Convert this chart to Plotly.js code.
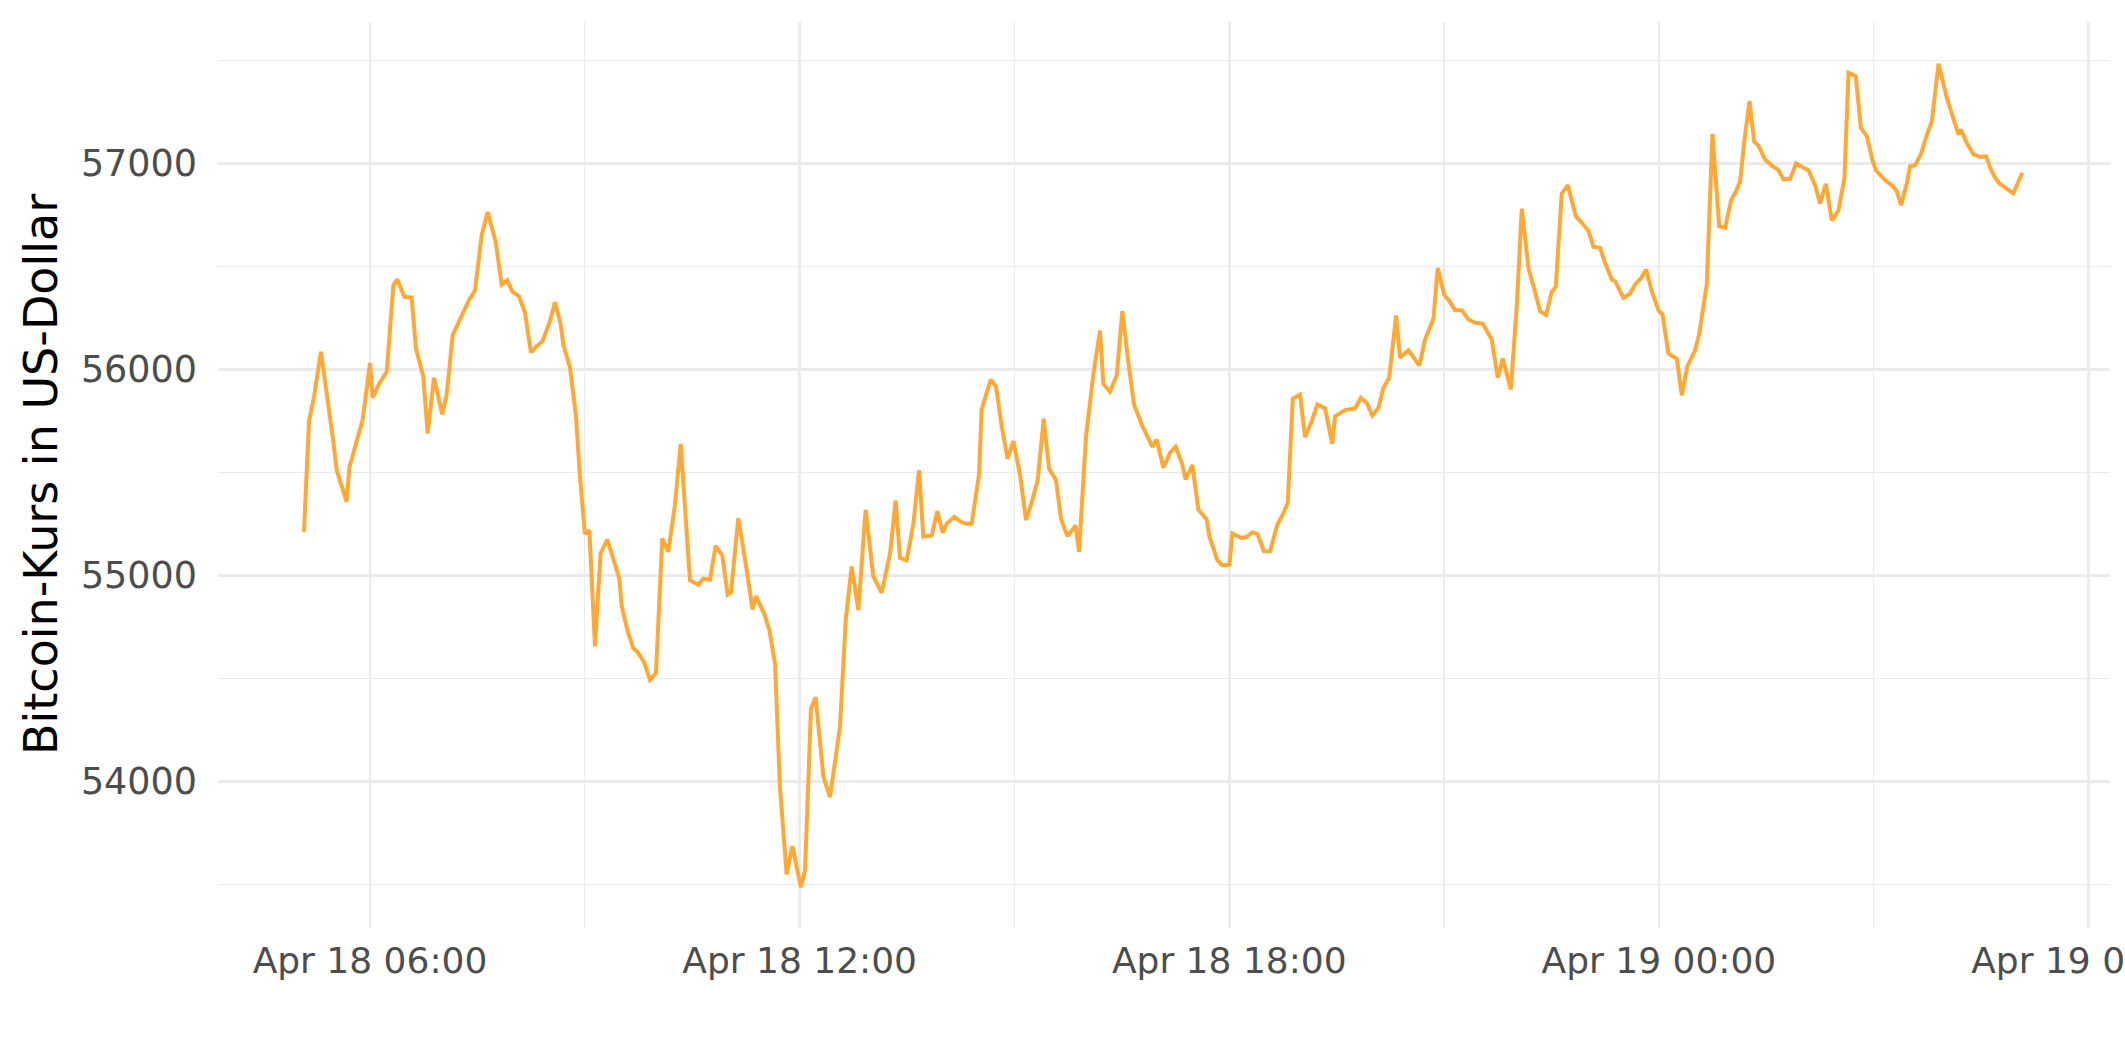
<!DOCTYPE html>
<html>
<head>
<meta charset="utf-8">
<script src="https://cdn.plot.ly/plotly-3.0.1.min.js"></script>
<style>
html,body{margin:0;padding:0;background:#fff;overflow:hidden;}
#chart{width:2125px;height:1062px;}
</style>
</head>
<body>
<div id="chart"></div>
<script>
// Minutes relative to Apr 18 2021 06:00
const minutesFrom0600 = [
-55.3,-51.1,-46.9,-41.1,-30.7,-27.9,-19.6,-17.3,-11.7,-6.1,0,2.2,7.8,14.0,19.6,22.9,28.8,34.9,38.5,44.7,48.3,53.6,60.6,64.2,69.3,76.0,82.9,88.0,93.6,98.6,105.3,110.3,
115.0,119.2,124.8,129.8,134.9,139.6,144.7,150.2,155.0,159.7,162.0,167.6,172.6,175.9,180.1,183.8,188.5,193.2,198.8,203.9,208.9,210.8,215.9,220.6,224.0,229.6,234.6,239.6,244.9,249.9,255.5,260.3,263.1,268.1,275.1,279.3,284.9,
289.6,295.2,299.7,302.5,308.6,314.8,320.6,323.4,330.4,334.6,339.4,343.5,349.1,353.9,361.1,364.5,369.5,373.4,379.9,385.4,390.2,393.8,398.6,403.6,409.2,415.3,421.7,428.7,435.7,440.5,444.1,449.7,455.3,460.0,
463.7,470.7,475.4,479.9,483.2,489.6,495.0,499.4,504.2,510.3,512.5,520.1,524.6,529.3,534.3,539.1,544.7,549.7,554.4,559.5,564.5,569.0,574.8,579.0,584.3,591.3,594.1,597.7,600.0,606.1,611.7,614.5,620.1,625.7,630.4,
635.5,640.2,646.6,655.6,659.2,664.8,670.4,675.1,680.2,683.5,689.1,694.1,701.1,703.3,710.0,714.2,720.1,722.6,729.9,734.1,739.4,743.8,749.1,754.2,760.3,765.3,769.0,773.2,779.3,783.5,789.1,793.8,800.3,806.2,808.7,
817.0,825.4,830.2,835.2,840.0,845.0,849.2,854.0,859.8,863.1,870.1,879.3,884.1,891.1,894.7,900.0,904.5,909.2,914.8,920.4,926.0,932.4,939.9,945.0,949.2,955.9,960.9,965.1,970.7,
974.9,980.5,985.5,990.2,993.6,998.6,1003.7,1010.4,1015.4,1021.0,1025.2,1030.7,1034.9,1040.5,1043.3,1050.3,1055.9,1060.1,1064.8,1069.3,1074.0,1079.6,1083.0,1088.0,1095.0,1099.2,1103.9,1110.3,1113.7,1116.5,1120.1,1124.9,1130.5,1135.5,1140.5,1144.7,
1148.1,1151.4,1155.9,1159.8,1163.4,1169.0,1174.6,1180.2,1184.4,1190.0,1195.0,1199.7,1205.3,1210.9,1215.1,1219.9,1224.9,1230.5,1235.5,1238.9,1245.0,1249.2,1254.2,1259.2,1262.0,1269.6,1276.0,1279.3,1283.0,1287.7,1290.5,1294.8,1299.8,1303.7,1308.7,1314.3,
1321.3,1331.0,1333.0,1338.0,1343.6,1349.2,1354.2,1357.6,1360.9,1365.4,1371.0,1377.0,1384.5
];
const priceUSD = [
55212,55751,55867,56086,55649,55511,55358,55524,55641,55757,56032,55864,55932,55989,56409,56437,56353,56349,56102,55964,55689,55960,55783,55875,56167,56248,56337,56385,56652,56765,56620,56413,
56434,56378,56356,56278,56083,56113,56139,56225,56326,56222,56121,56009,55775,55480,55202,55219,54656,55107,55174,55081,54985,54855,54730,54647,54630,54581,54494,54526,55180,55115,55341,55639,55393,54977,54954,54985,54980,
55144,55097,54908,54919,55278,55057,54835,54900,54814,54736,54571,53973,53549,53686,53487,53568,54353,54409,54024,53924,54118,54264,54782,55044,54833,55319,54997,54916,55105,55364,55086,55073,55251,55510,
55188,55194,55312,55207,55251,55285,55261,55251,55251,55490,55806,55951,55916,55725,55566,55652,55490,55269,55353,55463,55761,55519,55463,55275,55191,55243,55115,55482,55676,55976,56189,55930,55892,55971,56283,
56032,55830,55733,55625,55660,55523,55595,55625,55547,55466,55536,55320,55272,55191,55075,55049,55053,55204,55183,55186,55210,55199,55118,55118,55248,55301,55353,55858,55879,55672,55749,55830,55811,55640,55773,
55803,55811,55862,55838,55777,55814,55911,55960,56262,56057,56094,56019,56146,56246,56493,56364,56332,56288,56288,56243,56227,56223,56146,55960,56053,55903,56307,56780,56493,
56405,56283,56264,56377,56401,56854,56895,56744,56712,56672,56595,56591,56518,56437,56429,56348,56369,56413,56442,56485,56380,56288,56267,56078,56052,55875,56016,56092,56170,56267,56413,57144,56696,56688,56822,56866,
56914,57100,57303,57108,57087,57019,56990,56968,56922,56926,57000,56984,56968,56895,56806,56901,56723,56773,56930,57440,57424,57173,57133,57011,56966,56919,56890,56866,56798,56903,56987,56992,57049,57125,57205,57485,
57318,57140,57165,57100,57044,57032,57035,56979,56939,56903,56880,56855,56955
];
const yTickVals = [54000, 55000, 56000, 57000];
const yTitle = "Bitcoin-Kurs in US-Dollar";

function pad(n){return String(n).padStart(2,'0');}
function toStamp(m){
  const d = new Date(Date.UTC(2021,3,18,6,0,0) + Math.round(m*60)*1000);
  return d.getUTCFullYear()+'-'+pad(d.getUTCMonth()+1)+'-'+pad(d.getUTCDate())+' '+pad(d.getUTCHours())+':'+pad(d.getUTCMinutes())+':'+pad(d.getUTCSeconds());
}
const times = minutesFrom0600.map(toStamp);

const trace = {
  x: times, y: priceUSD, type: 'scatter', mode: 'lines',
  line: {color: '#FFA836', width: 4},
  hoverinfo: 'skip'
};

const grid = '#EBEBEB';
const layout = {
  width: 2125, height: 1062,
  paper_bgcolor: '#ffffff', plot_bgcolor: '#ffffff',
  margin: {l: 218, r: 15, t: 22, b: 134, pad: 0},
  showlegend: false,
  font: {family: 'DejaVu Sans', color: '#4D4D4D'},
  xaxis: {
    type: 'date',
    range: ['2021-04-18 03:52:38', '2021-04-19 06:18:00'],
    tick0: '2021-04-18 00:00:00', dtick: 6*3600*1000,
    tickformat: '%b %d %H:%M',
    showgrid: true, gridcolor: grid, gridwidth: 2.7,
    minor: {dtick: 3*3600*1000, tick0: '2021-04-18 00:00:00', showgrid: true, gridcolor: grid, gridwidth: 1.35, ticks: ''},
    zeroline: false, showline: false, ticks: '',
    tickfont: {family: 'DejaVu Sans', size: 36, color: '#4D4D4D'},
    ticklabelstandoff: 8,
    ticklabeloverflow: 'allow',
    automargin: false
  },
  yaxis: {
    range: [53289, 57687],
    tickvals: yTickVals,
    tickformat: 'd',
    showgrid: true, gridcolor: grid, gridwidth: 2.7,
    minor: {dtick: 500, tick0: 0, showgrid: true, gridcolor: grid, gridwidth: 1.35, ticks: ''},
    zeroline: false, showline: false, ticks: '',
    tickfont: {family: 'DejaVu Sans', size: 36.5, color: '#4D4D4D'},
    ticklabelstandoff: 20,
    automargin: false
  },
  annotations: [{
    text: yTitle, xref: 'paper', yref: 'paper', x: 0, y: 0.5,
    xanchor: 'center', yanchor: 'middle', xshift: -177, textangle: -90,
    showarrow: false, font: {family: 'DejaVu Sans', size: 46, color: '#000000'}
  }]
};

Plotly.newPlot('chart', [trace], layout, {displayModeBar: false, staticPlot: true});
</script>
</body>
</html>
